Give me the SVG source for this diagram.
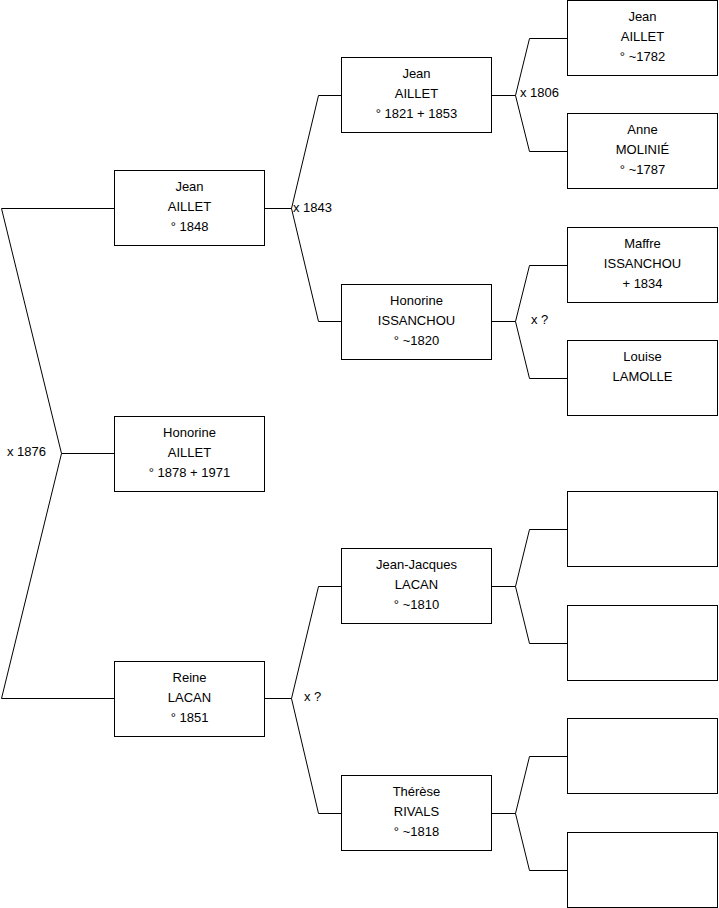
<svg xmlns="http://www.w3.org/2000/svg" width="719" height="908" viewBox="0 0 719 908">
<style>
rect{fill:#fff;stroke:#000;stroke-width:1}
#connectors path{fill:none;stroke:#000;stroke-width:1}
text{font-family:"Liberation Sans",Arial,sans-serif;font-size:13px;fill:#000}
.c{text-anchor:middle}
</style>
<rect x="0" y="0" width="719" height="908" style="stroke:none"/>
<g id="connectors">
<path d="M114,208.5H1.5L61.5,453.5L1.5,698.5H114M61.5,453.5H114"/>
<path d="M265,208.5H291.5L318.5,95.5H341M291.5,208.5L318.5,321.5H341"/>
<path d="M265,698.5H291.5L318.5,586.5H341M291.5,698.5L318.5,813.5H341"/>
<path d="M492,95.5H515.5L529.5,38.5H567M515.5,95.5L529.5,151.5H567"/>
<path d="M492,321.5H515.5L529.5,265.5H567M515.5,321.5L529.5,378.5H567"/>
<path d="M492,586.5H515.5L529.5,529.5H567M515.5,586.5L529.5,643.5H567"/>
<path d="M492,813.5H515.5L529.5,756.5H567M515.5,813.5L529.5,870.5H567"/>
<text x="7" y="456">x 1876</text>
<text x="293" y="211.5">x 1843</text>
<text x="520" y="96.5">x 1806</text>
<text x="531" y="324">x ?</text>
<text x="304" y="701">x ?</text>
</g>
<g id="n1"><rect x="114.5" y="170.5" width="150" height="75"/><text class="c" x="189.5" y="190.5">Jean</text><text class="c" x="189.5" y="210.5">AILLET</text><text class="c" x="189.5" y="230.5">° 1848</text></g>
<g id="n2"><rect x="114.5" y="416.5" width="150" height="75"/><text class="c" x="189.5" y="436.5">Honorine</text><text class="c" x="189.5" y="456.5">AILLET</text><text class="c" x="189.5" y="476.5">° 1878 + 1971</text></g>
<g id="n3"><rect x="114.5" y="661.5" width="150" height="75"/><text class="c" x="189.5" y="681.5">Reine</text><text class="c" x="189.5" y="701.5">LACAN</text><text class="c" x="189.5" y="721.5">° 1851</text></g>
<g id="n4"><rect x="341.5" y="57.5" width="150" height="75"/><text class="c" x="416.5" y="77.5">Jean</text><text class="c" x="416.5" y="97.5">AILLET</text><text class="c" x="416.5" y="117.5">° 1821 + 1853</text></g>
<g id="n5"><rect x="341.5" y="284.5" width="150" height="75"/><text class="c" x="416.5" y="304.5">Honorine</text><text class="c" x="416.5" y="324.5">ISSANCHOU</text><text class="c" x="416.5" y="344.5">° ~1820</text></g>
<g id="n6"><rect x="341.5" y="548.5" width="150" height="75"/><text class="c" x="416.5" y="568.5">Jean-Jacques</text><text class="c" x="416.5" y="588.5">LACAN</text><text class="c" x="416.5" y="608.5">° ~1810</text></g>
<g id="n7"><rect x="341.5" y="775.5" width="150" height="75"/><text class="c" x="416.5" y="795.5">Thérèse</text><text class="c" x="416.5" y="815.5">RIVALS</text><text class="c" x="416.5" y="835.5">° ~1818</text></g>
<g id="n8"><rect x="567.5" y="0.5" width="150" height="75"/><text class="c" x="642.5" y="20.5">Jean</text><text class="c" x="642.5" y="40.5">AILLET</text><text class="c" x="642.5" y="60.5">° ~1782</text></g>
<g id="n9"><rect x="567.5" y="113.5" width="150" height="75"/><text class="c" x="642.5" y="133.5">Anne</text><text class="c" x="642.5" y="153.5">MOLINIÉ</text><text class="c" x="642.5" y="173.5">° ~1787</text></g>
<g id="n10"><rect x="567.5" y="227.5" width="150" height="75"/><text class="c" x="642.5" y="247.5">Maffre</text><text class="c" x="642.5" y="267.5">ISSANCHOU</text><text class="c" x="642.5" y="287.5">+ 1834</text></g>
<g id="n11"><rect x="567.5" y="340.5" width="150" height="75"/><text class="c" x="642.5" y="360.5">Louise</text><text class="c" x="642.5" y="380.5">LAMOLLE</text></g>
<g id="n12"><rect x="567.5" y="491.5" width="150" height="75"/></g>
<g id="n13"><rect x="567.5" y="605.5" width="150" height="75"/></g>
<g id="n14"><rect x="567.5" y="718.5" width="150" height="75"/></g>
<g id="n15"><rect x="567.5" y="832.5" width="150" height="75"/></g>
</svg>
